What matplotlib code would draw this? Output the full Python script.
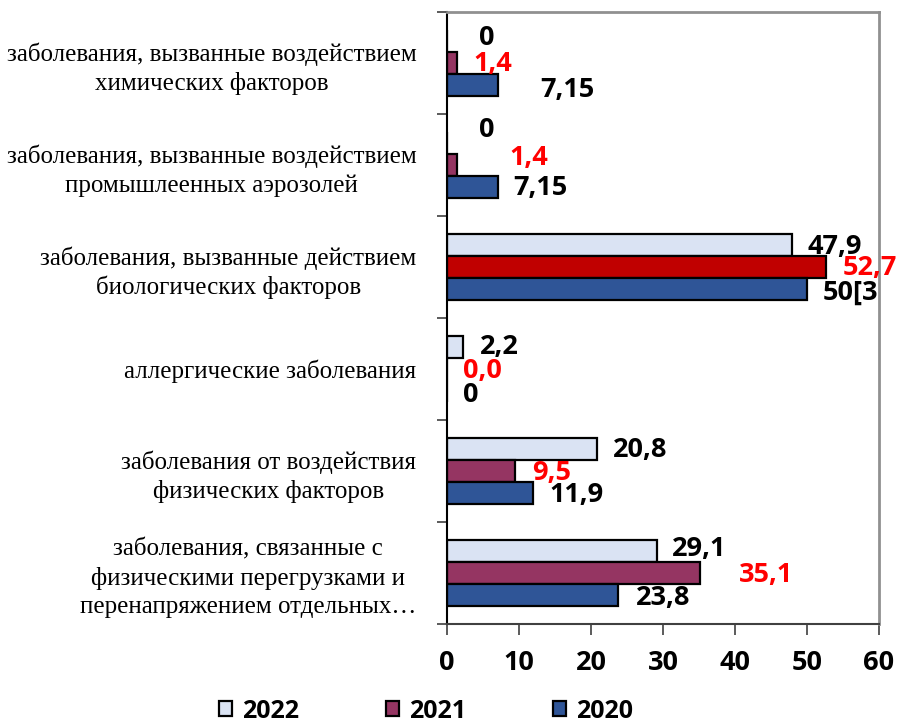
import numpy as np
import matplotlib.pyplot as plt
from matplotlib.patches import Patch

categories = [
    "заболевания, вызванные воздействием\nхимических факторов",
    "заболевания, вызванные воздействием\nпромышлеенных аэрозолей",
    "заболевания, вызванные действием\nбиологических факторов",
    "аллергические заболевания",
    "заболевания от воздействия\nфизических факторов",
    "заболевания, связанные с\nфизическими перегрузками и\nперенапряжением отдельных…",
]
years = ["2022", "2021", "2020"]
v2022 = [0, 0, 47.9, 2.2, 20.8, 29.1]
v2021 = [1.4, 1.4, 52.7, 0.0, 9.5, 35.1]
v2020 = [7.15, 7.15, 50, 0, 11.9, 23.8]
lbl2022 = ["0", "0", "47,9", "2,2", "20,8", "29,1"]
lbl2021 = ["1,4", "1,4", "52,7", "0,0", "9,5", "35,1"]
lbl2020 = ["7,15", "7,15", "50[3", "0", "11,9", "23,8"]

xticks = [0, 10, 20, 30, 40, 50, 60]

# label nudges in pixels (dx right, dy down) from bar end / bar centre
off2022 = [(40, -3), (40, -13), (43, 2), (37, 0), (43, 1), (43, -2)]
off2021 = [(36, 1), (72, -7), (43, 1), (35, 2), (36, 2), (66, 2)]
off2020 = [(69, 5), (42, 1), (43, 4), (24, 4), (44, 2), (45, 3)]

c2022 = "#DAE3F3"
c2021 = "#953562"
c2021_hi = "#C00000"
c2020 = "#2F5597"

num_font = {"family": "Open Sans", "weight": "bold"}

fig = plt.figure(figsize=(8.99, 7.22), dpi=100)
ax = fig.add_axes([447 / 899, 98 / 722, 432 / 899, 612 / 722])

y = np.arange(len(categories))
h = 0.215
cols2021 = [c2021_hi if i == 2 else c2021 for i in range(len(categories))]
series = [
    (v2022, lbl2022, off2022, [c2022] * len(categories), -h, "black"),
    (v2021, lbl2021, off2021, cols2021, 0, "red"),
    (v2020, lbl2020, off2020, [c2020] * len(categories), h, "black"),
]
for vals, lbls, offs, cols, shift, tcol in series:
    ax.barh(y + shift, vals, height=h, color=cols, edgecolor="black", linewidth=1.6)
    for yi, v, s, (dx, dy) in zip(y, vals, lbls, offs):
        ax.annotate(s, (v, yi + shift), xytext=(dx, -dy), textcoords="offset pixels",
                    ha="center", va="center", color=tcol, fontsize=19.5,
                    annotation_clip=False, zorder=5, **num_font)

ax.set_xlim(0, 60)
ax.set_ylim(len(categories) - 0.5, -0.5)
ax.set_xticks(xticks)
ax.set_xticklabels([str(t) for t in xticks], fontsize=19.5, **num_font)
ax.tick_params(axis="x", direction="out", length=8, width=1.2, color="#404040", pad=11)

ax.set_yticks(y)
ax.set_yticklabels(categories, fontsize=18, family="Liberation Serif",
                   multialignment="center", linespacing=1.35)
ax.set_yticks(np.arange(len(categories) + 1) - 0.5, minor=True)
ax.tick_params(axis="y", which="major", length=0, pad=22)
ax.tick_params(axis="y", which="minor", length=7, width=1.2, color="#404040")

for side in ("top", "right"):
    ax.spines[side].set_color("#909090")
    ax.spines[side].set_linewidth(2)
ax.spines["bottom"].set_color("#404040")
ax.spines["bottom"].set_linewidth(1.5)
ax.spines["left"].set_color("black")
ax.spines["left"].set_linewidth(1.5)

handles = [Patch(facecolor=c, edgecolor="black", linewidth=1.6) for c in (c2022, c2021, c2020)]
fig.legend(handles, years, loc="center", bbox_to_anchor=(426 / 899, 1 - 711 / 722), ncol=3,
           frameon=False, prop={"family": "Open Sans", "weight": "bold", "size": 18},
           handlelength=0.55, handleheight=0.55, handletextpad=0.4, columnspacing=3.45)

fig.savefig("out.png", dpi=100)
